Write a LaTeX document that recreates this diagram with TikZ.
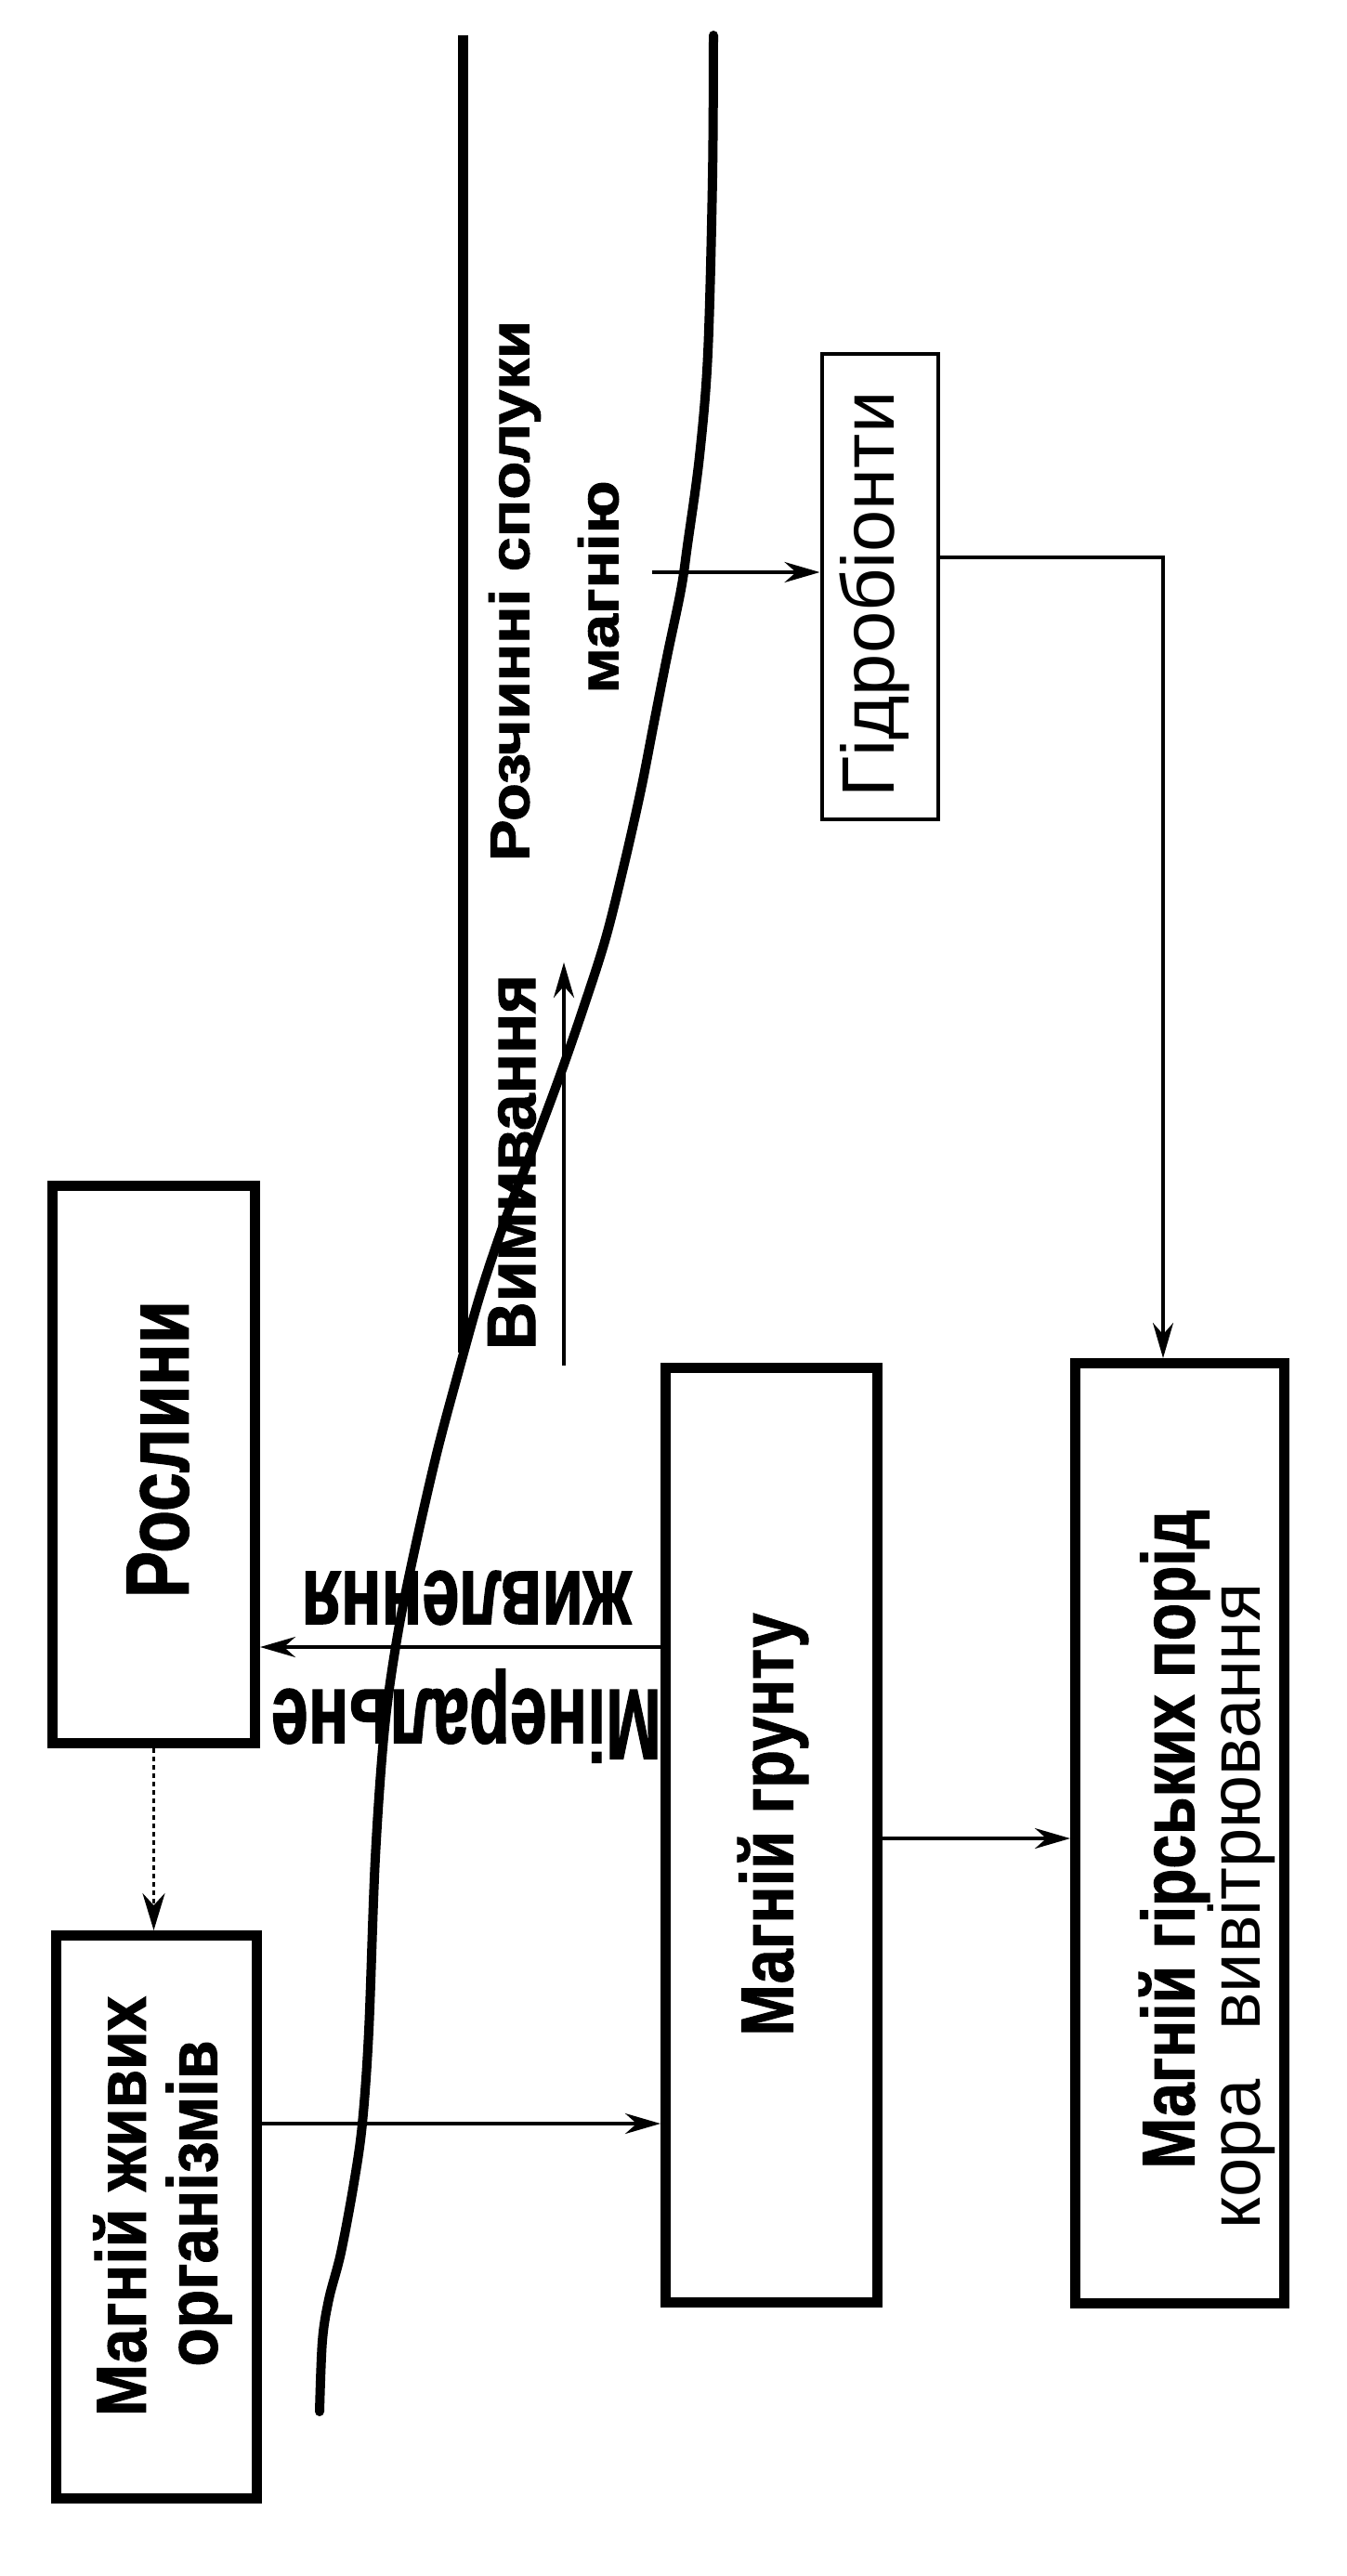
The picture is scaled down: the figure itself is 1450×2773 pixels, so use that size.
\documentclass[tikz,border=0pt]{standalone}
\usepackage{fontspec}
\setmainfont{Liberation Sans}[BoldFeatures={FakeBold=1.5}]
\usepackage{graphicx}
\usetikzlibrary{arrows.meta}
\newcommand\fitw[2]{\resizebox{#1}{\height}{#2}}
\begin{document}
\begin{tikzpicture}[x=1pt,y=-1pt,
  box/.style={draw, line width=11pt, inner sep=0pt},
  thinbox/.style={draw, line width=4pt, inner sep=0pt},
  lbl/.style={inner sep=0pt, rotate=90},
  arr/.style={line width=3.5pt, -{Stealth[length=38pt,width=22pt]}},
  dotarr/.style={line width=3.5pt, dash pattern=on 5pt off 4pt, -{Stealth[length=40pt,width=24pt]}},
  heavy/.style={line width=11pt},
  curveline/.style={line width=10pt, line cap=round, line join=round},
  bfont/.style={font=\bfseries\fontsize{#1pt}{#1pt}\selectfont},
  rfont/.style={font=\fontsize{#1pt}{#1pt}\selectfont},
]
\fill[white] (0,0) rectangle (1450,2773);
\path[use as bounding box] (0,0) rectangle (1450,2773);

% boxes
\node[box, minimum width=218pt, minimum height=600pt] (ros) at (165.5,1576.5) {};
\node[box, minimum width=216pt, minimum height=606pt] (liv) at (168.5,2386.5) {};
\node[box, minimum width=228pt, minimum height=1006pt] (soil) at (830.5,1975.5) {};
\node[box, minimum width=225pt, minimum height=1012pt] (rock) at (1270,1973.5) {};
\node[thinbox, minimum width=125pt, minimum height=501pt] (hyd) at (947,631.5) {};

% box texts
\node[lbl, bfont=96] (tros) at (170,1560) {\fitw{320pt}{Рослини}};
\node[lbl, bfont=76] (tliv1) at (129,2375) {\fitw{452pt}{Магній живих}};
\node[lbl, bfont=76] (tliv2) at (214,2372) {\fitw{351pt}{організмів}};
\node[lbl, bfont=80] (tsoil) at (832,1964) {\fitw{455pt}{Магній грунту}};
\node[lbl, bfont=80] (trock1) at (1264,1980) {\fitw{709pt}{Магній гірських порід}};
\node[lbl, rfont=78] (trock2) at (1336,2052) {\fitw{695pt}{кора\hspace{0.7em}вивітрювання}};
\node[lbl, rfont=80] (thyd) at (941,640) {\fitw{437pt}{Гідробіонти}};

% free labels
\node[lbl, bfont=60] (tsol1) at (554,636) {\fitw{582pt}{Розчинні сполуки}};
\node[lbl, bfont=60] (tsol2) at (644,632) {\fitw{229pt}{магнію}};
\node[lbl, bfont=74] (tvym) at (551,1251) {\fitw{404pt}{Вимивання}};
\node[inner sep=0pt, rotate=180, bfont=106] (tzhy) at (502,1720) {\fitw{355pt}{живлення}};
\node[inner sep=0pt, rotate=180, bfont=108] (tmin) at (502,1847) {\fitw{420pt}{Мінеральне}};

% water boundary lines
\coordinate (lt) at (498,38);
\coordinate (lb) at (498,1456);
\draw[heavy] (lt) -- (lb);
\draw[curveline] plot[smooth, tension=0.55] coordinates {
 (768,38) (767,191) (762,380) (753,491) (740,587) (733,635) (718,707)
 (704,778) (690,850) (672,930) (652,1010) (628,1085) (602,1160)
 (574,1235) (545,1310) (518,1390) (494,1475) (470,1565) (446,1670)
 (428,1760) (414,1860) (404,2000) (397,2186) (390,2286) (381,2350)
 (367,2425) (354,2475) (347,2520) (344,2596)};

% connectors
\coordinate (ymin) at (0,1773);
\coordinate (yliv) at (0,2286);
\coordinate (yrock) at (0,1979);
\coordinate (yhyd) at (0,600);
\coordinate (solstart) at (702,616);
\coordinate (vymb) at (607,1470);
\coordinate (vymt) at (607,1036);
\coordinate (hydcorner) at (1252,600);

\draw[arr] (soil.west |- ymin) -- (ros.east |- ymin);
\draw[arr] (liv.east |- yliv) -- (soil.west |- yliv);
\draw[arr] (soil.east |- yrock) -- (rock.west |- yrock);
\draw[dotarr] (ros.south) -- (ros.south |- liv.north);
\draw[arr] (solstart) -- (hyd.west |- solstart);
\draw[arr] (hyd.east |- yhyd) -- (hydcorner) -- (rock.north -| hydcorner);
\draw[arr] (vymb) -- (vymt);
\end{tikzpicture}
\end{document}
